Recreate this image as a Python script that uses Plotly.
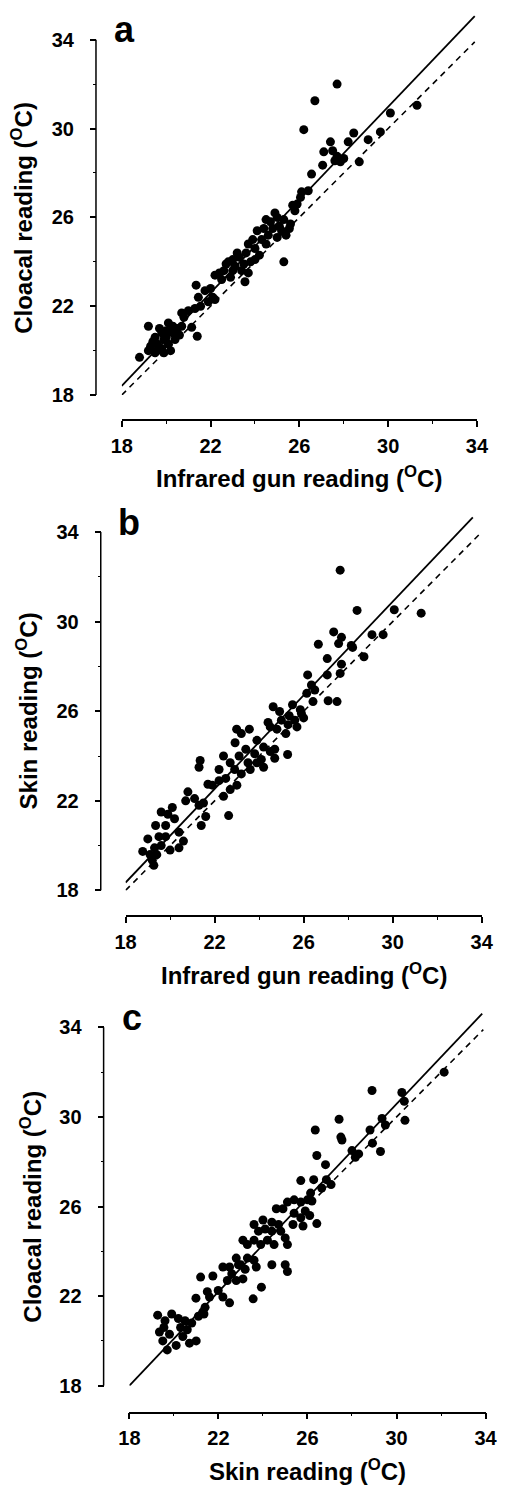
import plotly.graph_objects as go

W, H = 509, 1494

# ---- data ----
A_X = [27.7, 26.7, 26.2, 30.1, 31.3, 29.65, 29.1, 28.7, 28.45, 28.2, 27.4, 27.1, 27.05, 27.5, 27.7,
       27.85, 28.0, 27.6, 26.55, 26.1, 26.4, 26.05, 25.7, 25.8, 25.55, 25.3, 25.3, 24.9, 25.0, 25.2,
       25.4, 24.7, 24.4, 24.8, 25.0, 24.1, 24.3, 24.0, 24.5, 24.2, 23.9, 23.7, 23.6, 23.3, 23.5,
       23.1, 23.8, 23.2, 23.0, 22.8, 22.6, 22.9, 23.55, 22.4, 22.5, 22.2, 23.4, 24.0, 23.7, 24.6,
       25.1, 22.7, 23.0, 21.35, 21.45, 21.75, 22.1, 21.0, 21.3, 21.55, 20.7, 20.8, 21.15, 21.4, 19.2,
       18.8, 20.1, 22.0, 22.2, 19.5, 19.8, 19.6, 19.9, 19.3, 19.5, 19.8, 20.1, 20.3, 20.4, 20.2,
       19.9, 19.6, 20.5, 20.6, 19.4, 20.0, 20.3, 19.7, 20.7, 20.0, 19.2, 25.6, 25.9, 24.5, 21.9]
A_Y = [32.0, 31.25, 29.95, 30.7, 31.05, 29.85, 29.5, 28.5, 29.8, 29.4, 29.4, 28.95, 28.35, 29.0, 28.75,
       28.5, 28.65, 28.55, 27.95, 27.15, 27.2, 26.9, 26.55, 26.3, 25.5, 24.0, 25.9, 26.2, 26.0, 25.4,
       25.2, 25.8, 25.5, 25.5, 25.1, 25.4, 25.0, 24.6, 24.8, 24.3, 25.0, 24.8, 24.4, 24.2, 23.9,
       23.8, 24.0, 24.4, 23.6, 24.0, 23.6, 23.3, 23.1, 23.5, 23.2, 23.4, 23.6, 24.1, 23.5, 25.2,
       25.6, 23.9, 24.1, 22.95, 22.4, 22.7, 22.4, 21.8, 21.9, 22.0, 21.7, 21.5, 21.05, 20.65, 21.1,
       19.7, 21.25, 22.8, 22.3, 20.6, 20.8, 20.3, 20.5, 20.2, 19.9, 20.1, 20.3, 20.8, 20.5, 20.0,
       19.9, 20.0, 21.0, 20.7, 20.4, 20.9, 21.1, 21.0, 21.1, 20.6, 20.0, 25.7, 26.6, 25.9, 22.2]

B_X = [27.64, 28.4, 30.07, 31.28, 27.35, 27.7, 26.66, 27.57, 28.14, 28.2, 29.07, 29.57, 28.71, 27.06,
       27.7, 27.64, 27.06, 26.18, 26.35, 26.5, 26.14, 26.42, 27.1, 27.5, 25.85, 25.5, 24.63, 24.92,
       25.35, 25.6, 25.9, 25.0, 25.2, 24.8, 25.3, 25.28, 24.4, 24.5, 22.99, 23.56, 23.2, 22.92, 23.9,
       24.2, 23.8, 24.1, 24.5, 24.7, 24.7, 22.4, 22.7, 22.9, 23.1, 23.4, 23.5, 23.2, 23.0, 23.6, 23.9,
       24.2, 22.2, 21.9, 22.2, 22.5, 22.7, 22.4, 21.35, 21.3, 21.7, 20.8, 21.1, 20.7, 21.3, 21.5, 21.6,
       21.4, 22.63, 19.6, 19.9, 19.8, 20.1, 20.2, 20.4, 20.6, 20.4, 19.35, 19.5, 19.3, 19.4, 19.2,
       19.0, 19.6, 19.8, 20.0, 19.1, 18.77, 19.27, 26.0, 25.7]
B_Y = [32.3, 30.5, 30.53, 30.38, 29.54, 29.3, 28.99, 29.02, 28.94, 28.85, 29.42, 29.42, 28.43, 28.35,
       28.1, 27.69, 27.62, 27.62, 27.17, 26.95, 26.8, 26.43, 26.47, 26.43, 26.07, 26.29, 26.2, 25.99,
       25.8, 25.6, 25.9, 25.6, 25.0, 25.2, 25.4, 24.07, 25.5, 25.3, 25.2, 25.2, 25.0, 24.59, 24.7,
       24.4, 24.1, 23.85, 24.2, 24.3, 23.9, 24.0, 23.7, 23.4, 24.0, 24.3, 23.7, 23.2, 22.7, 23.4, 23.7,
       23.5, 23.4, 22.7, 22.9, 23.0, 22.5, 22.2, 23.8, 23.5, 22.74, 22.4, 22.1, 22.0, 21.8, 21.9, 21.3,
       20.9, 21.34, 21.5, 21.4, 20.9, 21.7, 21.2, 20.6, 20.2, 19.9, 20.9, 20.4, 19.9, 19.6, 19.35,
       20.3, 20.0, 20.4, 19.8, 19.6, 19.74, 19.12, 25.7, 25.3]

C_X = [32.14, 28.9, 30.24, 30.35, 30.38, 29.35, 29.5, 28.81, 28.92, 29.28, 27.42, 27.5, 27.55, 26.35,
       28.0, 28.3, 28.15, 26.42, 26.81, 25.7, 26.28, 26.85, 27.06, 26.64, 26.14, 25.4, 25.1, 25.7,
       26.0, 26.2, 24.6, 24.9, 25.4, 25.7, 26.1, 26.42, 25.35, 25.8, 23.6, 24.0, 24.4, 24.7, 24.8,
       25.0, 24.4, 24.1, 23.8, 23.1, 23.3, 23.6, 23.9, 24.2, 24.5, 25.1, 22.8, 23.0, 23.3, 23.6, 23.7,
       23.2, 22.9, 22.5, 22.2, 22.6, 22.4, 22.8, 24.4, 25.0, 25.1, 23.93, 23.56, 23.1, 21.2, 21.75,
       22.2, 22.5, 21.99, 21.4, 21.6, 21.3, 20.99, 19.27, 19.6, 19.9, 20.2, 20.5, 20.8, 21.1, 21.35,
       19.5, 19.8, 20.1, 20.4, 20.7, 21.0, 20.6, 19.7, 19.35, 19.55, 20.3, 21.5, 25.9]
C_Y = [32.0, 31.18, 31.09, 30.7, 29.85, 29.93, 29.64, 29.42, 28.83, 28.46, 29.9, 29.1, 28.97, 29.42,
       28.5, 28.35, 28.2, 28.28, 27.87, 27.16, 27.2, 27.2, 26.98, 26.83, 26.6, 26.3, 26.2, 26.2,
       26.3, 26.25, 25.9, 25.9, 25.7, 25.5, 25.6, 25.24, 25.2, 25.13, 25.2, 25.4, 25.3, 25.2, 24.9,
       24.6, 24.9, 25.0, 24.9, 24.5, 24.3, 24.5, 24.3, 24.5, 24.3, 24.3, 23.7, 23.4, 23.7, 23.6, 23.3,
       23.2, 23.4, 23.3, 23.3, 23.0, 22.7, 22.7, 23.4, 23.4, 23.1, 22.4, 21.88, 22.77, 22.85, 22.9,
       21.96, 21.7, 22.25, 21.5, 21.96, 21.3, 21.91, 21.15, 20.9, 21.2, 21.0, 20.9, 20.8, 21.1, 21.2,
       20.0, 20.3, 19.8, 20.2, 19.9, 20.0, 20.5, 19.6, 20.4, 20.6, 20.6, 22.2, 25.8]

# regression lines (solid): intercept, slope, x extent
FIT_INTERCEPT = [-0.43, -0.46, -0.86]
FIT_SLOPE = [1.047, 1.045, 1.048]
FIT_X = [[18, 33.9], [18, 33.6], [18, 33.85]]
# line of equality (dashed); in panel c only its upper part shows
EQ_X = [[18, 33.9], [18, 33.9], [26.5, 33.9]]

TICKS = [18, 22, 26, 30, 34]
MINOR = [20, 24, 28, 32]
LETTERS = ["a", "b", "c"]
X_TITLES = ["Infrared gun reading (<sup>O</sup>C)", "Infrared gun reading (<sup>O</sup>C)",
            "Skin reading (<sup>O</sup>C)"]
Y_TITLES = ["Cloacal reading (<sup>O</sup>C)", "Skin reading (<sup>O</sup>C)",
            "Cloacal reading (<sup>O</sup>C)"]

# ---- layout geometry (pixels) ----
# x18/x34: pixel column of x=18/34, y18/y34: pixel row of y=18/34,
# yax: column of the y axis line, xax: row of the x axis line
GEOM = [
    dict(x18=116, x34=488, y18=398, y34=40, yax=89, xax=423),
    dict(x18=120, x34=493, y18=897, y34=536, yax=94, xax=923),
    dict(x18=124, x34=497, y18=1396, y34=1035, yax=97, xax=1423),
]
Y_TOP = 35.4
FONT = "Liberation Sans, Arial, sans-serif"


def fx(p):
    return p / W


def fy(p):
    return 1 - p / H


panels = [(A_X, A_Y), (B_X, B_Y), (C_X, C_Y)]
fig = go.Figure()
layout = {}
annotations = []
shapes = []

for i, (xs, ys) in enumerate(panels):
    n = i + 1
    g = GEOM[i]
    xr = "x" if n == 1 else f"x{n}"
    yr = "y" if n == 1 else f"y{n}"

    fit_y = [FIT_INTERCEPT[i] + FIT_SLOPE[i] * v for v in FIT_X[i]]

    fig.add_trace(go.Scatter(x=EQ_X[i], y=EQ_X[i], mode="lines", xaxis=xr, yaxis=yr,
                             line=dict(color="black", width=1.6, dash="6px,5px"),
                             showlegend=False, hoverinfo="skip"))
    fig.add_trace(go.Scatter(x=xs, y=ys, mode="markers", xaxis=xr, yaxis=yr,
                             marker=dict(color="black", size=9, line=dict(width=0)),
                             showlegend=False))
    fig.add_trace(go.Scatter(x=FIT_X[i], y=fit_y, mode="lines", xaxis=xr, yaxis=yr,
                             line=dict(color="black", width=1.8),
                             showlegend=False, hoverinfo="skip"))

    unit = (g["y18"] - g["y34"]) / 16.0
    ytop_px = g["y34"] - (Y_TOP - 34) * unit

    layout["xaxis" if n == 1 else f"xaxis{n}"] = dict(
        domain=[fx(g["x18"]), fx(g["x34"])], range=[18, 34],
        anchor="free", position=fy(g["xax"]),
        showline=True, linecolor="black", linewidth=1.5,
        ticks="outside", ticklen=6, tickwidth=1.5, tickcolor="black",
        tickvals=TICKS, showgrid=False, zeroline=False,
        minor=dict(tickvals=MINOR, ticks="outside", ticklen=3, tickwidth=1.2, tickcolor="black"),
        tickfont=dict(family=FONT, size=20, color="black", weight="bold"),
        ticklabelstandoff=2,
    )
    layout["yaxis" if n == 1 else f"yaxis{n}"] = dict(
        domain=[fy(g["y18"]), fy(ytop_px)], range=[18, Y_TOP],
        anchor="free", position=fx(g["yax"]),
        showline=False,
        ticks="outside", ticklen=6, tickwidth=1.5, tickcolor="black",
        tickvals=TICKS, showgrid=False, zeroline=False,
        minor=dict(tickvals=MINOR, ticks="outside", ticklen=3, tickwidth=1.2, tickcolor="black"),
        tickfont=dict(family=FONT, size=20, color="black", weight="bold"),
        ticklabelstandoff=12,
    )

    # y axis line only spans 18..34
    shapes.append(dict(type="line", xref="paper", yref=yr,
                       x0=fx(g["yax"]), x1=fx(g["yax"]), y0=18, y1=34,
                       line=dict(color="black", width=1.5)))

    annotations.append(dict(text=X_TITLES[i], xref="paper", yref="paper",
                            x=fx((g["x18"] + g["x34"]) / 2), y=fy(g["xax"] + 58),
                            xanchor="center", yanchor="middle", showarrow=False,
                            font=dict(family=FONT, size=24, color="black", weight="bold")))
    annotations.append(dict(text=Y_TITLES[i], xref="paper", yref="paper",
                            x=fx(g["yax"] - 77), y=fy((g["y18"] + g["y34"]) / 2),
                            xanchor="center", yanchor="middle", showarrow=False, textangle=-90,
                            font=dict(family=FONT, size=24, color="black", weight="bold")))
    annotations.append(dict(text=LETTERS[i], xref="paper", yref="paper",
                            x=fx(g["x18"] - 10), y=fy(g["y34"] - 10),
                            xanchor="left", yanchor="middle", showarrow=False,
                            font=dict(family=FONT, size=36, color="black", weight="bold")))

fig.update_layout(
    width=W, height=H,
    margin=dict(l=0, r=0, t=0, b=0),
    paper_bgcolor="white", plot_bgcolor="white",
    annotations=annotations, shapes=shapes,
    **layout,
)

# drop the browser's default 8px body margin so the figure fills the window exactly
fig.write_html("out.html", config={"displayModeBar": False},
               post_script="document.body.style.margin='0';")
